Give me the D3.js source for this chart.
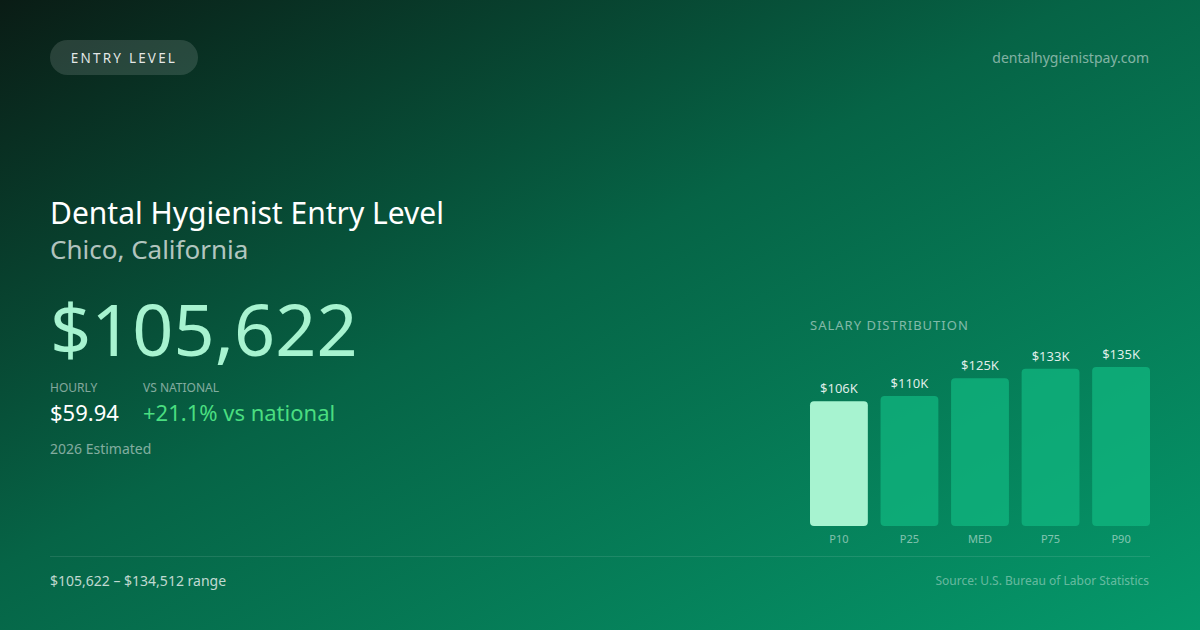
<!DOCTYPE html>
<html><head><meta charset="utf-8">
<script src="https://cdn.jsdelivr.net/npm/d3@7"></script>
<style>html,body{margin:0;padding:0;background:#0b1f17;}svg{display:block;font-family:"Noto Sans","Open Sans",sans-serif;}</style>
</head><body>
<svg id="c" width="1200" height="630"></svg>
<script>
const categories = ["P10", "P25", "MED", "P75", "P90"];
const values = [105622, 110000, 125000, 133000, 134512];
const valueLabels = ["$106K", "$110K", "$125K", "$133K", "$135K"];

const svg = d3.select("#c");
const defs = svg.append("defs");
const g = defs.append("linearGradient").attr("id","bg").attr("x1","0").attr("y1","0").attr("x2","1").attr("y2","1");
g.append("stop").attr("offset","0%").attr("stop-color","#0a1c15");
g.append("stop").attr("offset","45%").attr("stop-color","#066446");
g.append("stop").attr("offset","100%").attr("stop-color","#05996b");
svg.append("rect").attr("width",1200).attr("height",630).attr("fill","url(#bg)");

// pill
svg.append("rect").attr("x",50).attr("y",40).attr("width",148).attr("height",35).attr("rx",17.5)
  .attr("fill","rgba(255,255,255,0.13)");
svg.append("text").attr("x",124).attr("y",63).attr("text-anchor","middle").attr("font-size",13.5)
  .attr("letter-spacing","2.2px").attr("fill","rgba(255,255,255,0.88)").text("ENTRY LEVEL");
svg.append("text").attr("x",1149).attr("y",63).attr("text-anchor","end").attr("font-size",14)
  .attr("fill","rgba(255,255,255,0.5)").text("dentalhygienistpay.com");

svg.append("text").attr("x",50).attr("y",224).attr("font-size",30).attr("fill","#ffffff").text("Dental Hygienist Entry Level");
svg.append("text").attr("x",50).attr("y",259).attr("font-size",26).attr("fill","rgba(255,255,255,0.7)").text("Chico, California");
svg.append("text").attr("x",50).attr("y",356).attr("font-size",72).attr("fill","#a7f3d0").text("$105,622");

svg.append("text").attr("x",50).attr("y",392).attr("font-size",12).attr("fill","rgba(255,255,255,0.5)").text("HOURLY");
svg.append("text").attr("x",143).attr("y",392).attr("font-size",12).attr("fill","rgba(255,255,255,0.5)").text("VS NATIONAL");
svg.append("text").attr("x",50).attr("y",421).attr("font-size",22).attr("fill","#ffffff").text("$59.94");
svg.append("text").attr("x",143).attr("y",421).attr("font-size",22).attr("fill","#4ade80").text("+21.1% vs national");
svg.append("text").attr("x",50).attr("y",454).attr("font-size",14).attr("fill","rgba(255,255,255,0.5)").text("2026 Estimated");

// chart
svg.append("text").attr("x",810).attr("y",330).attr("font-size",13).attr("letter-spacing","1px")
  .attr("fill","rgba(255,255,255,0.5)").text("SALARY DISTRIBUTION");

const x = d3.scaleBand().domain(categories).range([810,1150]).paddingInner(0.18).paddingOuter(0);
const y = d3.scaleLinear().domain([0, d3.max(values)]).range([526, 367]);

const data = categories.map((c,i)=>({c, v:values[i], l:valueLabels[i], i}));
svg.selectAll("rect.bar").data(data).join("rect").attr("class","bar")
  .attr("x",d=>x(d.c)).attr("y",d=>y(d.v)).attr("width",x.bandwidth()).attr("height",d=>y(0)-y(d.v))
  .attr("rx",4).attr("fill",d=>d.i===0?"#a7f3d0":"#10b981").attr("fill-opacity",d=>d.i===0?1:0.72);
svg.selectAll("text.vl").data(data).join("text").attr("class","vl")
  .attr("x",d=>x(d.c)+x.bandwidth()/2).attr("y",d=>y(d.v)-8).attr("text-anchor","middle")
  .attr("font-size",13).attr("fill","rgba(255,255,255,0.88)").text(d=>d.l);
svg.selectAll("text.xl").data(data).join("text").attr("class","xl")
  .attr("x",d=>x(d.c)+x.bandwidth()/2).attr("y",543).attr("text-anchor","middle")
  .attr("font-size",11).attr("fill","rgba(255,255,255,0.5)").text(d=>d.c);

// footer
svg.append("line").attr("x1",50).attr("x2",1150).attr("y1",556.5).attr("y2",556.5)
  .attr("stroke","rgba(255,255,255,0.1)").attr("stroke-width",1);
svg.append("text").attr("x",50).attr("y",586).attr("font-size",14).attr("fill","rgba(255,255,255,0.75)").text("$105,622 – $134,512 range");
svg.append("text").attr("x",1149).attr("y",585).attr("text-anchor","end").attr("font-size",12)
  .attr("fill","rgba(255,255,255,0.4)").text("Source: U.S. Bureau of Labor Statistics");
</script>
</body></html>
